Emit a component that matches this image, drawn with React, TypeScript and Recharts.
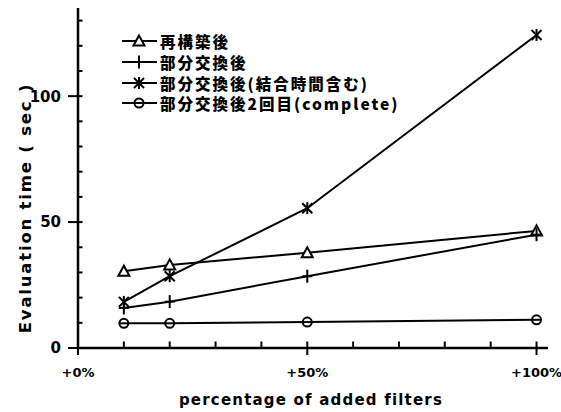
import React from 'react';
import { LineChart, Line, XAxis, YAxis, Legend } from 'recharts';

const xPercent = [10, 20, 50, 100];
const rebuilt = [30.5, 33, 37.8, 46.5];
const partial = [15.9, 18.4, 28.5, 45];
const partialJoin = [18.3, 28.5, 55.5, 124.3];
const partialSecond = [9.8, 9.8, 10.3, 11.2];

const seriesNames = ['再構築後', '部分交換後', '部分交換後(結合時間含む)', '部分交換後2回目(complete)'];
const xTicks = [0, 10, 20, 30, 40, 50, 60, 70, 80, 90, 100];
const yTicks = [0, 10, 20, 30, 40, 50, 60, 70, 80, 90, 100, 110, 120, 130];
const xTickLabels: Record<number, string> = { 0: '+0%', 50: '+50%', 100: '+100%' };

const data = xPercent.map((x, i) => ({
  x,
  a: rebuilt[i],
  b: partial[i],
  c: partialJoin[i],
  d: partialSecond[i],
}));

const FONT = '"DejaVu Sans", "Noto Sans CJK JP", sans-serif';
const JFONT = '"Noto Sans CJK JP", "DejaVu Sans", sans-serif';

type Kind = 'tri' | 'plus' | 'star' | 'circle';

const Marker = ({ kind, cx, cy }: { kind: Kind; cx: number; cy: number }) => {
  const s = { stroke: '#000', strokeWidth: 2, fill: 'none' } as const;
  if (kind === 'tri') {
    return <polygon points={`${cx},${cy - 5.5} ${cx - 5.5},${cy + 4.5} ${cx + 5.5},${cy + 4.5}`} {...s} fill="#fff" />;
  }
  if (kind === 'plus') {
    return (
      <g>
        <line x1={cx} x2={cx} y1={cy - 6.5} y2={cy + 6.5} {...s} />
        <line x1={cx - 5} x2={cx + 5} y1={cy} y2={cy} {...s} />
      </g>
    );
  }
  if (kind === 'star') {
    return (
      <g>
        <line x1={cx - 5} x2={cx + 5} y1={cy - 5} y2={cy + 5} {...s} />
        <line x1={cx - 5} x2={cx + 5} y1={cy + 5} y2={cy - 5} {...s} />
        <line x1={cx} x2={cx} y1={cy - 6} y2={cy + 6} {...s} />
      </g>
    );
  }
  return <circle cx={cx} cy={cy} r={4.5} {...s} fill="#fff" />;
};

const dotFor = (kind: Kind) => (props: any) => {
  const { cx, cy, index } = props;
  if (cx == null || cy == null) return <g key={index} />;
  return (
    <g key={`${kind}-${index}`}>
      <Marker kind={kind} cx={cx} cy={cy} />
      {kind === 'circle' && <line x1={cx - 4.5} x2={cx + 4.5} y1={cy} y2={cy} stroke="#000" strokeWidth={2} />}
    </g>
  );
};

const YTick = (props: any) => {
  const { x, y, payload } = props;
  const major = payload.value % 50 === 0;
  return (
    <g>
      <line x1={major ? x - 10 : x} x2={x + 4.5} y1={y} y2={y} stroke="#000" strokeWidth={2} />
      {major && (
        <text x={x - 17} y={y} dy="0.36em" textAnchor="end" fontFamily={FONT} fontWeight="bold" fontSize={15} fill="#000">
          {payload.value}
        </text>
      )}
    </g>
  );
};

const XTick = (props: any) => {
  const { x, y, payload } = props;
  const label = xTickLabels[payload.value];
  const major = label !== undefined;
  return (
    <g>
      <line x1={x} x2={x} y1={y - 6.5} y2={major ? y + 7 : y} stroke="#000" strokeWidth={2} />
      {major && (
        <text x={x} y={y + 29} textAnchor="middle" fontFamily={FONT} fontWeight="bold" fontSize={13} fill="#000">
          {label}
        </text>
      )}
    </g>
  );
};

const kinds: Kind[] = ['tri', 'plus', 'star', 'circle'];

const LegendContent = () => (
  <div style={{ display: 'flex', flexDirection: 'column' }}>
    {seriesNames.map((name, i) => (
      <div key={name} style={{ display: 'flex', alignItems: 'center', height: 20.7 }}>
        <svg width={38} height={20} style={{ display: 'block' }}>
          <line x1={1} x2={36} y1={10} y2={10} stroke="#000" strokeWidth={2} />
          <Marker kind={kinds[i]} cx={18} cy={10} />
          {kinds[i] === 'circle' && <line x1={13.5} x2={22.5} y1={10} y2={10} stroke="#000" strokeWidth={2} />}
        </svg>
        <span
          style={{
            fontFamily: JFONT,
            fontWeight: 900,
            fontSize: 15.5,
            letterSpacing: 2,
            marginLeft: 1,
            color: '#000',
            whiteSpace: 'nowrap',
            lineHeight: '20px',
          }}
        >
          {name}
        </span>
      </div>
    ))}
  </div>
);

export default function App() {
  return (
    <div style={{ position: 'absolute', left: 0, top: 0, width: 561, height: 412, background: '#fff' }}>
      <LineChart width={561} height={412} data={data} margin={{ top: 8, right: 13, bottom: 63, left: 0 }}>
        <XAxis
          dataKey="x"
          type="number"
          domain={[0, 102.5]}
          ticks={xTicks}
          interval={0}
          height={1}
          tickSize={0}
          tickMargin={0}
          tickLine={false}
          tick={XTick}
          axisLine={{ stroke: '#000', strokeWidth: 2.5 }}
          label={{
            content: (p: any) => {
              const vb = p.viewBox || { x: 78, y: 348, width: 470 };
              return (
                <text
                  x={vb.x + vb.width / 2 - 2}
                  y={vb.y + 57}
                  textAnchor="middle"
                  fontFamily={FONT}
                  fontWeight="bold"
                  fontSize={15}
                  letterSpacing={1.2}
                  fill="#000"
                >
                  percentage of added filters
                </text>
              );
            },
          }}
        />
        <YAxis
          type="number"
          domain={[0, 135]}
          ticks={yTicks}
          interval={0}
          width={78}
          tickSize={0}
          tickMargin={0}
          tickLine={false}
          tick={YTick}
          axisLine={{ stroke: '#000', strokeWidth: 2.5 }}
          label={{
            content: (p: any) => {
              const vb = p.viewBox || { x: 0, y: 8, width: 78, height: 340 };
              const cx = vb.x + 25;
              const cy = vb.y + vb.height / 2 + 30;
              return (
                <text
                  x={cx}
                  y={cy}
                  transform={`rotate(-90, ${cx}, ${cy})`}
                  textAnchor="middle"
                  dominantBaseline="central"
                  fontFamily={FONT}
                  fontWeight="bold"
                  fontSize={16.5}
                  letterSpacing={1.8}
                  fill="#000"
                >
                  Evaluation time ( sec )
                </text>
              );
            },
          }}
        />
        <Legend
          layout="vertical"
          align="center"
          verticalAlign="middle"
          content={LegendContent}
          wrapperStyle={{ position: 'absolute', top: 31, left: 121, width: 'auto' }}
        />
        <Line dataKey="a" name={seriesNames[0]} stroke="#000" strokeWidth={2} dot={dotFor('tri')} isAnimationActive={false} />
        <Line dataKey="b" name={seriesNames[1]} stroke="#000" strokeWidth={2} dot={dotFor('plus')} isAnimationActive={false} />
        <Line dataKey="c" name={seriesNames[2]} stroke="#000" strokeWidth={2} dot={dotFor('star')} isAnimationActive={false} />
        <Line dataKey="d" name={seriesNames[3]} stroke="#000" strokeWidth={2} dot={dotFor('circle')} isAnimationActive={false} />
      </LineChart>
    </div>
  );
}
